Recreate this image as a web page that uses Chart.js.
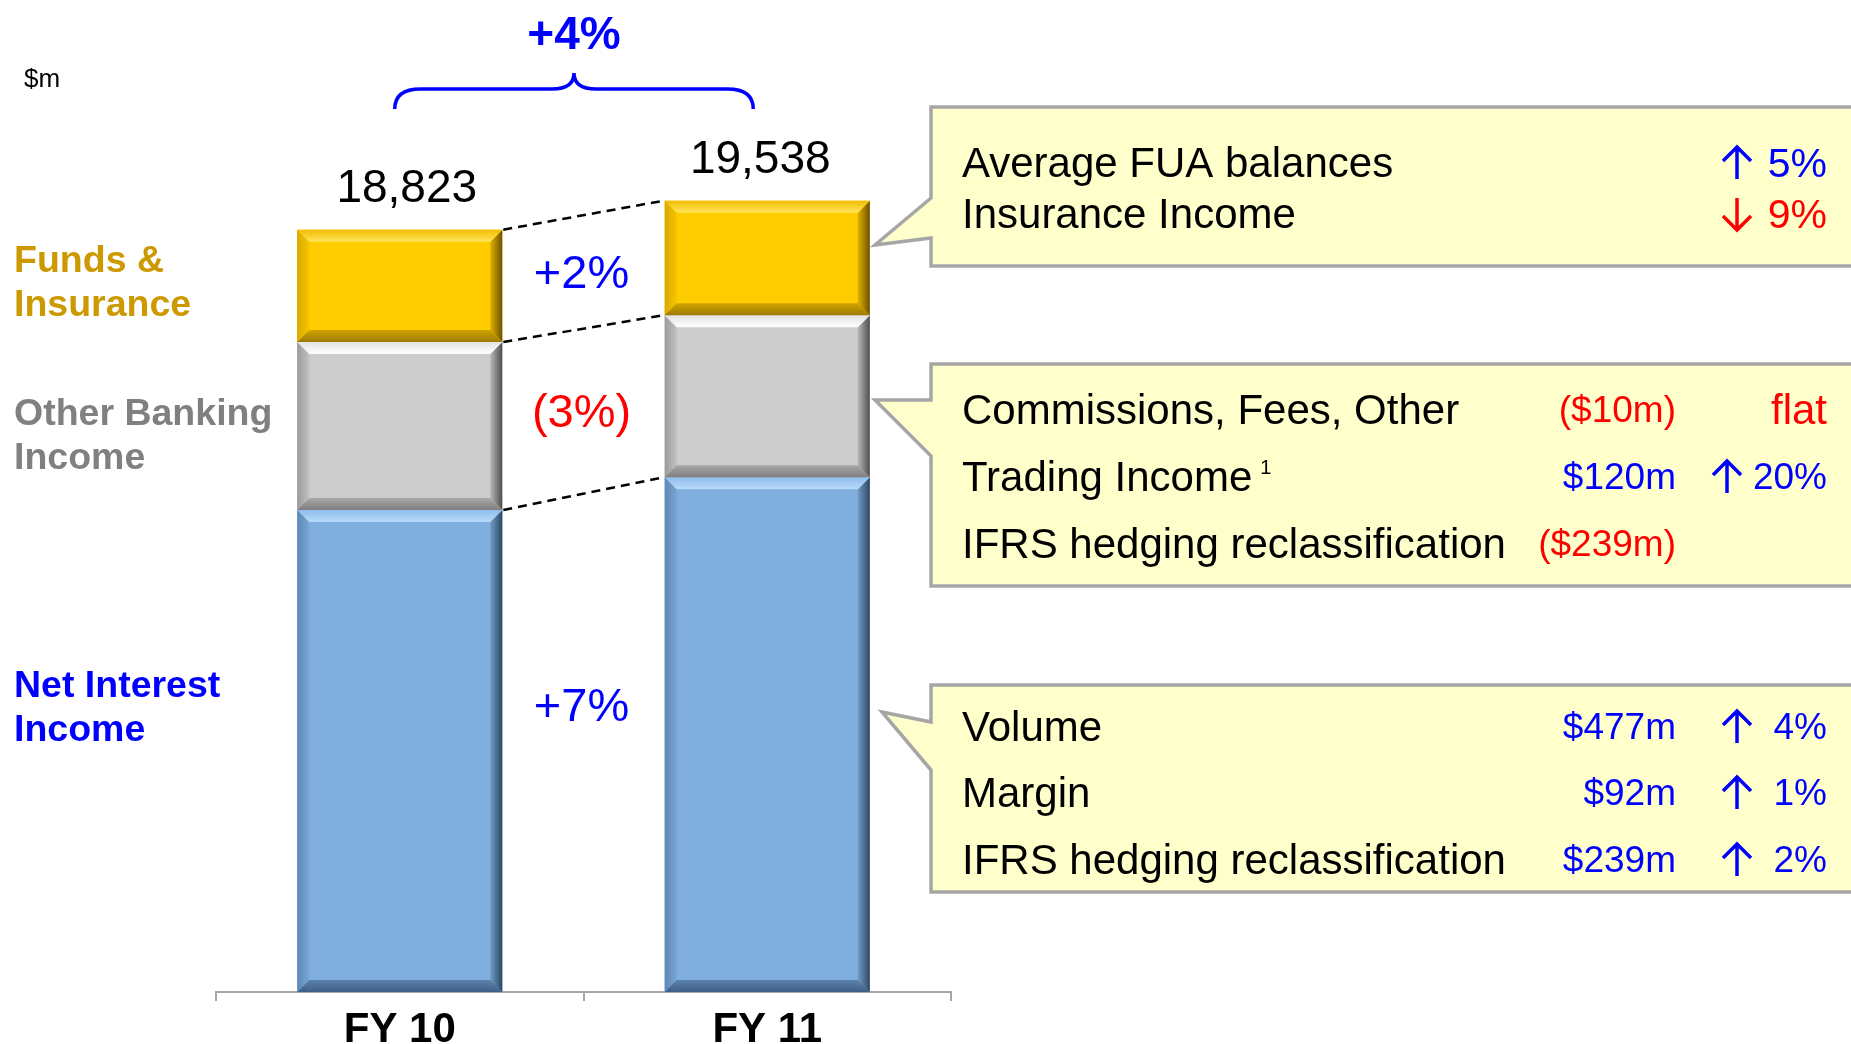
<!DOCTYPE html>
<html>
<head>
<meta charset="utf-8">
<script src="https://cdn.jsdelivr.net/npm/chart.js"></script>
<style>
  html, body { margin: 0; padding: 0; background: #fff; }
  canvas { display: block; }
</style>
</head>
<body>
<canvas id="chart" width="1851" height="1044"></canvas>
<script>
// $m, stacked from the bottom up
const categories = ['FY 10', 'FY 11'];
const netInterestIncome = [11900, 12710];
const otherBankingIncome = [4150, 4000];
const fundsInsurance = [2773, 2828];
const segmentChanges = ['+7%', '(3%)', '+2%'];
const totalChange = '+4%';

// callout rows: label, amount, direction, change
const fundsNotes = [
    ['Average FUA balances', '', 'up', '5%'],
    ['Insurance Income', '', 'down', '9%']
];
const otherBankingNotes = [
    ['Commissions, Fees, Other', '($10m)', '', 'flat'],
    ['Trading Income', '$120m', 'up', '20%'],
    ['IFRS hedging reclassification', '($239m)', '', '']
];
const netInterestNotes = [
    ['Volume', '$477m', 'up', '4%'],
    ['Margin', '$92m', 'up', '1%'],
    ['IFRS hedging reclassification', '$239m', 'up', '2%']
];

const FONT = '"Liberation Sans", Arial, sans-serif';
const BLUE = '#0000FF';
const RED = '#FF0000';

function text(ctx, s, x, y, size, color, align, weight) {
    ctx.font = (weight || 'normal') + ' ' + size + 'px ' + FONT;
    ctx.fillStyle = color;
    ctx.textAlign = align || 'left';
    ctx.textBaseline = 'middle';
    ctx.fillText(s, x, y + size * 0.06);
}

// bevel colours per dataset: [outer, inner] for top, bottom, left, right
const bevels = [
    { top: ['#8FBCEB', '#B9DBFB'], bottom: ['#5A82AE', '#3F5F84'], left: ['#5E89B6', '#77A5D4'], right: ['#6F9BC8', '#2F4763'] },
    { top: ['#E2E2E2', '#FFFFFF'], bottom: ['#A8A8A8', '#7E7E7E'], left: ['#9A9A9A', '#C2C2C2'], right: ['#B8B8B8', '#4E4E4E'] },
    { top: ['#F2BC00', '#FFE45A'], bottom: ['#D1A400', '#9C7A00'], left: ['#D9A900', '#F5C400'], right: ['#E0B000', '#6E5200'] }
];

function drawBevel(ctx, l, t, r, b, c, s) {
    const poly = (pts, g) => {
        ctx.beginPath();
        ctx.moveTo(pts[0][0], pts[0][1]);
        for (let i = 1; i < pts.length; i++) ctx.lineTo(pts[i][0], pts[i][1]);
        ctx.closePath();
        ctx.fillStyle = g;
        ctx.fill();
    };
    const grad = (x0, y0, x1, y1, cols) => {
        const g = ctx.createLinearGradient(x0, y0, x1, y1);
        g.addColorStop(0, cols[0]);
        g.addColorStop(1, cols[1]);
        return g;
    };
    poly([[l, t], [l + s, t + s], [l + s, b - s], [l, b]], grad(l, 0, l + s, 0, c.left));
    poly([[r, t], [r - s, t + s], [r - s, b - s], [r, b]], grad(r - s, 0, r, 0, c.right));
    poly([[l, t], [r, t], [r - s, t + s], [l + s, t + s]], grad(0, t, 0, t + s, c.top));
    poly([[l, b], [r, b], [r - s, b - s], [l + s, b - s]], grad(0, b - s, 0, b, c.bottom));
}

function arrow(ctx, x, y, dir, color) {
    const h = 16, head = 14;
    ctx.save();
    ctx.strokeStyle = color;
    ctx.lineWidth = 3.5;
    ctx.beginPath();
    const tipY = dir === 'up' ? y - h : y + h;
    const tailY = dir === 'up' ? y + h : y - h;
    const sgn = dir === 'up' ? 1 : -1;
    ctx.moveTo(x, tailY);
    ctx.lineTo(x, tipY);
    ctx.moveTo(x - head, tipY + sgn * head);
    ctx.lineTo(x, tipY);
    ctx.lineTo(x + head, tipY + sgn * head);
    ctx.stroke();
    ctx.restore();
}

function callout(ctx, box, rows) {
    const L = 931, R = 1875;
    ctx.save();
    ctx.beginPath();
    ctx.moveTo(R, box.top);
    ctx.lineTo(L, box.top);
    ctx.lineTo(L, box.baseA);
    ctx.lineTo(box.tip[0], box.tip[1]);
    ctx.lineTo(L, box.baseB);
    ctx.lineTo(L, box.bottom);
    ctx.lineTo(R, box.bottom);
    ctx.closePath();
    ctx.fillStyle = '#FFFFCC';
    ctx.fill();
    ctx.lineWidth = 3.5;
    ctx.lineJoin = 'miter';
    ctx.strokeStyle = '#A6A6A6';
    ctx.stroke();
    rows.forEach((row, i) => {
        const y = box.rows[i];
        const [label, amount, dir, pct] = row;
        text(ctx, label, 962, y, 42, '#000');
        if (label === 'Trading Income') {
            ctx.font = '42px ' + FONT;
            const w = ctx.measureText(label).width;
            text(ctx, '1', 962 + w + 8, y - 10, 20, '#000');
        }
        if (amount) text(ctx, amount, 1676, y, 37, amount.startsWith('(') ? RED : BLUE, 'right');
        if (pct) {
            const col = (dir === 'down' || pct === 'flat') ? RED : BLUE;
            text(ctx, pct, 1827, y, pct === 'flat' ? 42 : box.pctSize, col, 'right');
            if (dir) arrow(ctx, box.arrowX, y, dir, col);
        }
    });
    ctx.restore();
}

const decorPlugin = {
    id: 'decor',
    afterDatasetsDraw(chart) {
        const ctx = chart.ctx;
        const metas = chart.data.datasets.map((d, i) => chart.getDatasetMeta(i));
        const props = metas.map(m => m.data.map(el => el.getProps(['x', 'y', 'base', 'width'], true)));

        // bevelled bar edges
        ctx.save();
        props.forEach((bars, di) => {
            bars.forEach(p => {
                const l = p.x - p.width / 2, r = p.x + p.width / 2;
                drawBevel(ctx, l, Math.min(p.y, p.base), r, Math.max(p.y, p.base), bevels[di], 12);
            });
        });
        ctx.restore();

        // dashed connectors between segment tops
        ctx.save();
        ctx.setLineDash([9, 6]);
        ctx.lineWidth = 2.5;
        ctx.strokeStyle = '#000';
        props.forEach(bars => {
            const a = bars[0], b = bars[1];
            ctx.beginPath();
            ctx.moveTo(a.x + a.width / 2 + 1, a.y);
            ctx.lineTo(b.x - b.width / 2 - 1, b.y);
            ctx.stroke();
        });
        ctx.restore();

        // segment change labels, between the bars
        const a0 = props[0][0], b0 = props[0][1];
        const midX = (a0.x + a0.width / 2 + b0.x - b0.width / 2) / 2 - 2;
        const yShift = [-38, 0, 0];
        props.forEach((bars, di) => {
            const m0 = (bars[0].y + bars[0].base) / 2;
            const m1 = (bars[1].y + bars[1].base) / 2;
            const s = segmentChanges[di];
            text(ctx, s, midX, (m0 + m1) / 2 + yShift[di], 47, s.startsWith('(') ? RED : BLUE, 'center');
        });

        // totals above bars
        const top = props[props.length - 1];
        const totalDx = [7, -7];
        top.forEach((p, i) => {
            const total = chart.data.datasets.reduce((acc, d) => acc + d.data[i], 0);
            text(ctx, total.toLocaleString('en-US'), p.x + totalDx[i], p.y - 43, 46, '#000', 'center');
        });

        // brace and total change
        const xa = top[0].x - 5, xb = top[1].x - 14, xm = (xa + xb) / 2;
        ctx.save();
        ctx.strokeStyle = BLUE;
        ctx.lineWidth = 3.5;
        ctx.beginPath();
        ctx.moveTo(xa, 109);
        ctx.quadraticCurveTo(xa, 89, xa + 26, 89);
        ctx.lineTo(xm - 22, 89);
        ctx.quadraticCurveTo(xm, 89, xm, 73);
        ctx.quadraticCurveTo(xm, 89, xm + 22, 89);
        ctx.lineTo(xb - 26, 89);
        ctx.quadraticCurveTo(xb, 89, xb, 109);
        ctx.stroke();
        ctx.restore();
        text(ctx, totalChange, xm, 34, 46, BLUE, 'center', 'bold');

        // unit and left labels
        text(ctx, '$m', 24, 78, 26, '#000');
        text(ctx, 'Funds &', 14, 259, 37.5, '#CC9900', 'left', 'bold');
        text(ctx, 'Insurance', 14, 303, 37.5, '#CC9900', 'left', 'bold');
        text(ctx, 'Other Banking', 14, 412, 37.5, '#808080', 'left', 'bold');
        text(ctx, 'Income', 14, 456, 37.5, '#808080', 'left', 'bold');
        text(ctx, 'Net Interest', 14, 684, 37.5, BLUE, 'left', 'bold');
        text(ctx, 'Income', 14, 728, 37.5, BLUE, 'left', 'bold');

        // callouts
        callout(ctx, { top: 107, bottom: 266, tip: [875, 245], baseA: 198, baseB: 238, rows: [163, 214], arrowX: 1737, pctSize: 41 }, fundsNotes);
        callout(ctx, { top: 364, bottom: 586, tip: [875, 400], baseA: 400, baseB: 456, rows: [410, 477, 544], arrowX: 1727, pctSize: 37 }, otherBankingNotes);
        callout(ctx, { top: 685, bottom: 892, tip: [882, 712], baseA: 722, baseB: 770, rows: [727, 793, 860], arrowX: 1737, pctSize: 37 }, netInterestNotes);
    }
};

const ctx = document.getElementById('chart').getContext('2d');
const chart = new Chart(ctx, {
    type: 'bar',
    data: {
        labels: categories,
        datasets: [
            { label: 'Net Interest Income', data: netInterestIncome, backgroundColor: '#7EADDE' },
            { label: 'Other Banking Income', data: otherBankingIncome, backgroundColor: '#CCCCCC' },
            { label: 'Funds & Insurance', data: fundsInsurance, backgroundColor: '#FFCC00' }
        ]
    },
    options: {
        responsive: false,
        animation: false,
        events: [],
        categoryPercentage: 1,
        barPercentage: 0.558,
        borderWidth: 0,
        layout: { padding: { left: 216, right: 900, top: 101, bottom: 0 } },
        plugins: {
            legend: { display: false },
            tooltip: { enabled: false }
        },
        scales: {
            x: {
                stacked: true,
                grid: { display: true, drawOnChartArea: false, drawTicks: true, tickLength: 9, color: '#A6A6A6', lineWidth: 2, offset: true },
                border: { display: true, color: '#A6A6A6', width: 2 },
                ticks: { color: '#000', padding: 4, font: { family: FONT, size: 42, weight: 'bold' } },
                afterFit: (scale) => { scale.height = 52; }
            },
            y: {
                stacked: true,
                display: false,
                min: 0,
                max: 22000
            }
        }
    },
    plugins: [decorPlugin]
});
</script>
</body>
</html>
